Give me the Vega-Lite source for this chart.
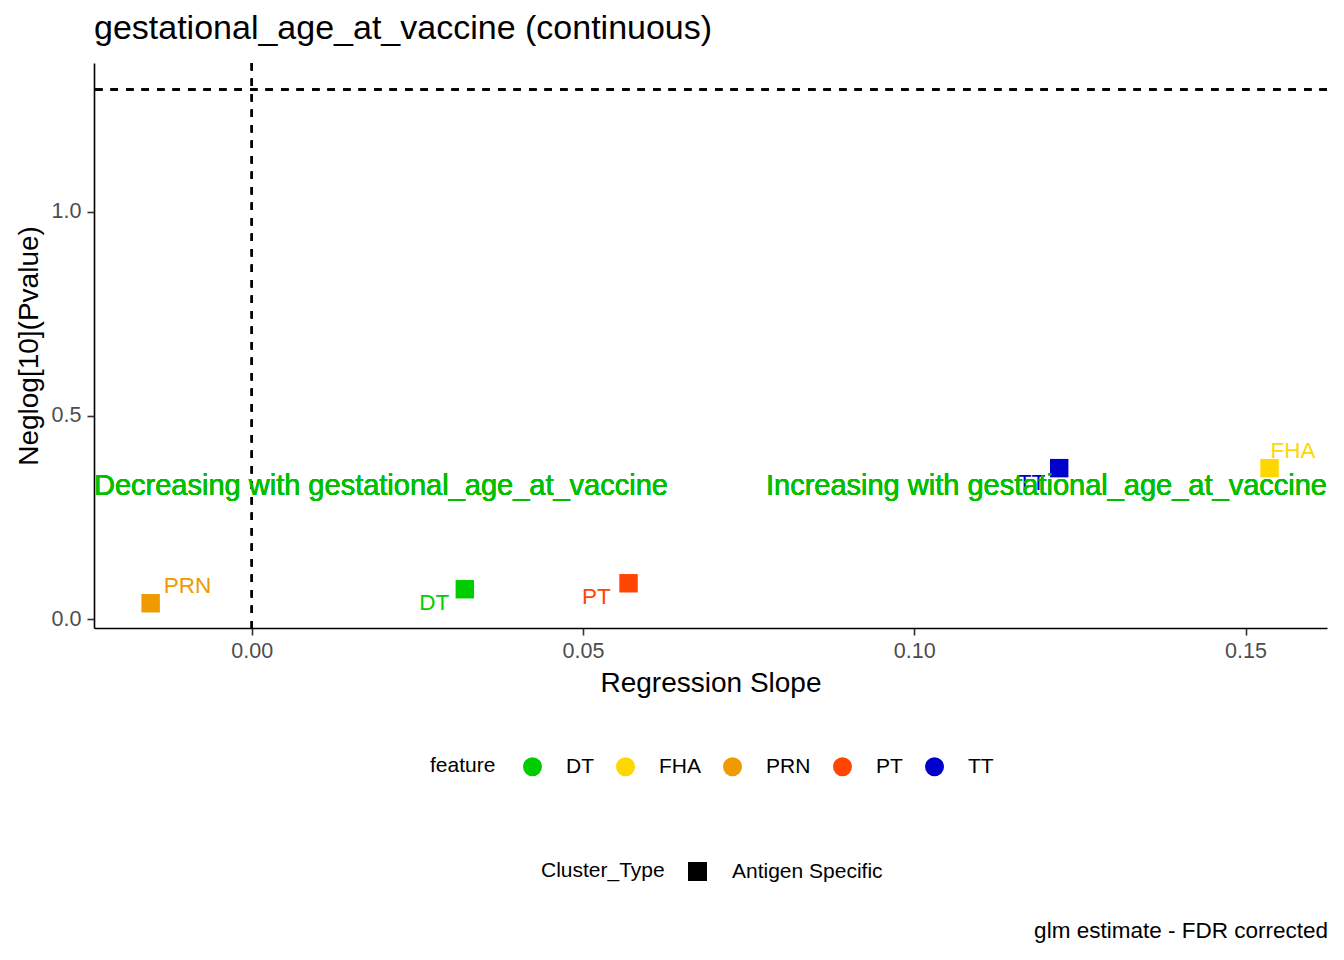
{
  "$schema": "https://vega.github.io/schema/vega-lite/v6.json",
  "padding": {"left": 15, "top": 12, "right": 16, "bottom": 10},
  "background": "white",
  "config": {
    "font": "Liberation Sans",
    "view": {"stroke": null},
    "axis": {"grid": false, "domainColor": "black", "domainWidth": 1.6, "tickColor": "#333333", "tickWidth": 1.6, "tickSize": 7, "labelColor": "#4D4D4D", "labelFontSize": 21.5, "titleFontSize": 28, "titleFontWeight": "normal", "titleColor": "black"}
  },
  "datasets": {
    "points": [
      {"feature": "PRN", "slope": -0.01525, "neglogp": 0.0388, "Cluster_Type": "Antigen Specific"},
      {"feature": "DT", "slope": 0.03217, "neglogp": 0.0732, "Cluster_Type": "Antigen Specific"},
      {"feature": "PT", "slope": 0.05688, "neglogp": 0.0879, "Cluster_Type": "Antigen Specific"},
      {"feature": "TT", "slope": 0.12188, "neglogp": 0.3707, "Cluster_Type": "Antigen Specific"},
      {"feature": "FHA", "slope": 0.15363, "neglogp": 0.3707, "Cluster_Type": "Antigen Specific"}
    ]
  },
  "title": {"text": "glm estimate - FDR corrected", "orient": "bottom", "anchor": "end", "frame": "bounds", "fontSize": 22.5, "fontWeight": "normal", "color": "black", "offset": 38},
  "vconcat": [
    {
      "width": 1233,
      "height": 565,
      "title": {"text": "gestational_age_at_vaccine (continuous)", "anchor": "start", "frame": "group", "fontSize": 34, "fontWeight": "normal", "color": "black", "baseline": "alphabetic", "offset": -11},
      "data": {"name": "points"},
      "encoding": {
        "x": {"field": "slope", "type": "quantitative", "title": "Regression Slope",
              "scale": {"domain": [-0.0238, 0.1623], "nice": false, "zero": false},
              "axis": {"values": [0, 0.05, 0.1, 0.15], "format": ".2f", "labelPadding": 5, "titlePadding": 8}},
        "y": {"field": "neglogp", "type": "quantitative", "title": "Neglog[10](Pvalue)",
              "scale": {"domain": [-0.022, 1.366], "nice": false, "zero": false},
              "axis": {"values": [0, 0.5, 1.0], "format": ".1f", "labelPadding": 6, "titlePadding": 8}}
      },
      "layer": [
        {"mark": {"type": "rule", "strokeDash": [7.5, 8], "strokeWidth": 1.9, "color": "black"},
         "encoding": {"x": {"datum": 0}, "y": null}},
        {"mark": {"type": "rule", "strokeDash": [7.5, 8], "strokeWidth": 1.9, "color": "black"},
         "encoding": {"y": {"datum": 1.301}, "x": null}},
        {"mark": {"type": "point", "shape": "square", "filled": true, "opacity": 1, "size": 340},
         "encoding": {
           "color": {"field": "feature", "type": "nominal",
                     "scale": {"domain": ["DT", "FHA", "PRN", "PT", "TT"], "range": ["#00CD00", "#FFD700", "#EE9A00", "#FF4500", "#0000CD"]},
                     "legend": {"orient": "none", "legendX": 336, "legendY": 693, "direction": "horizontal", "titleOrient": "left", "symbolType": "circle", "symbolSize": 360, "symbolStrokeWidth": 0, "labelFontSize": 21, "titleFontSize": 21, "titleFontWeight": "normal", "titleColor": "black", "labelColor": "black", "labelOffset": 23, "columnPadding": 21, "titlePadding": 26}},
           "shape": {"field": "Cluster_Type", "type": "nominal",
                     "scale": {"domain": ["Antigen Specific"], "range": ["square"]},
                     "legend": {"orient": "none", "legendX": 447, "legendY": 798, "direction": "horizontal", "titleOrient": "left", "symbolSize": 361, "symbolFillColor": "black", "symbolStrokeColor": "black", "symbolStrokeWidth": 0, "labelFontSize": 21, "titleFontSize": 21, "titleFontWeight": "normal", "titleColor": "black", "labelColor": "black", "labelOffset": 24, "titlePadding": 22}}
         }},
        {"transform": [{"filter": "datum.feature === 'PRN'"}],
         "mark": {"type": "text", "align": "left", "baseline": "middle", "dx": 13, "dy": -17, "fontSize": 22.5},
         "encoding": {"text": {"field": "feature"}, "color": {"field": "feature", "type": "nominal", "legend": null}}},
        {"transform": [{"filter": "datum.feature === 'FHA'"}],
         "mark": {"type": "text", "align": "left", "baseline": "middle", "dx": 1, "dy": -17.6, "fontSize": 22.5},
         "encoding": {"text": {"field": "feature"}, "color": {"field": "feature", "type": "nominal", "legend": null}}},
        {"transform": [{"filter": "datum.feature === 'DT'"}],
         "mark": {"type": "text", "align": "right", "baseline": "middle", "dx": -15.5, "dy": 13.5, "fontSize": 22.5},
         "encoding": {"text": {"field": "feature"}, "color": {"field": "feature", "type": "nominal", "legend": null}}},
        {"transform": [{"filter": "datum.feature === 'PT'"}],
         "mark": {"type": "text", "align": "right", "baseline": "middle", "dx": -17.7, "dy": 14, "fontSize": 22.5},
         "encoding": {"text": {"field": "feature"}, "color": {"field": "feature", "type": "nominal", "legend": null}}},
        {"transform": [{"filter": "datum.feature === 'TT'"}],
         "mark": {"type": "text", "align": "right", "baseline": "middle", "dx": -14, "dy": 15, "fontSize": 22.5},
         "encoding": {"text": {"field": "feature"}, "color": {"field": "feature", "type": "nominal", "legend": null}}},
        {"mark": {"type": "text", "text": "Decreasing with gestational_age_at_vaccine", "align": "left", "baseline": "middle", "fontSize": 29, "color": "#00C000"},
         "encoding": {"x": {"datum": -0.0238}, "y": {"datum": 0.327}}},
        {"mark": {"type": "text", "text": "Increasing with gestational_age_at_vaccine", "align": "right", "baseline": "middle", "fontSize": 29, "color": "#00C000"},
         "encoding": {"x": {"datum": 0.1623}, "y": {"datum": 0.327}}}
      ]
    }
  ]
}
